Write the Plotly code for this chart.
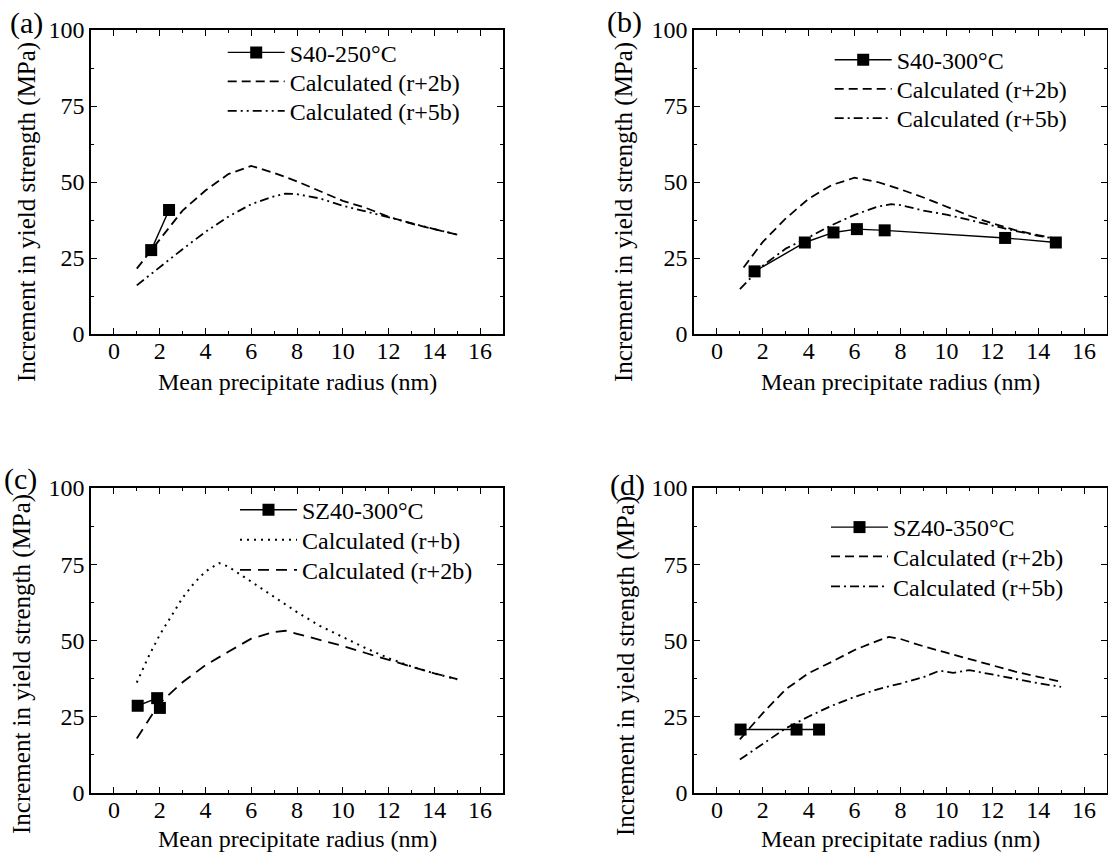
import plotly.graph_objects as go

FONT = "Liberation Serif"
W, H = 1108, 863

# ---------------- data ----------------
# Panel (a)
a_meas_x = [1.63, 2.41]
a_meas_y = [27.6, 40.8]
a_2b_x = [1, 2, 3, 4, 5, 6, 7, 8, 9, 10, 11, 12, 13, 14, 15]
a_2b_y = [21.5, 31.2, 40.6, 47.2, 52.6, 55.3, 53.0, 50.2, 47.0, 43.8, 41.5, 38.6, 36.3, 34.6, 32.7]
a_5b_x = [1, 2, 3, 4, 5, 6, 7, 7.5, 8, 9, 10, 11, 12, 13, 14, 15]
a_5b_y = [16.0, 22.0, 27.9, 33.6, 38.6, 42.7, 45.3, 46.2, 46.0, 44.6, 42.2, 40.3, 38.3, 36.3, 34.5, 32.7]

# Panel (b)
b_meas_x = [1.64, 3.83, 5.08, 6.10, 7.31, 12.56, 14.77]
b_meas_y = [20.6, 30.1, 33.4, 34.5, 34.1, 31.6, 30.1]
b_2b_x = [1.16, 2, 3, 4, 5, 6, 7, 8, 9, 10, 11, 12, 13, 14, 15]
b_2b_y = [21.9, 30.3, 38.0, 44.5, 49.0, 51.4, 50.0, 47.6, 44.9, 42.0, 38.9, 36.4, 34.2, 32.5, 31.0]
b_5b_x = [1, 2, 3, 4, 5, 6, 7, 7.6, 8, 9, 10, 11, 12, 13, 14, 15]
b_5b_y = [14.8, 22.5, 28.1, 31.8, 35.8, 39.2, 41.9, 42.7, 42.4, 40.6, 39.3, 37.5, 35.6, 33.9, 32.3, 31.0]

# Panel (c)
c_meas_x = [1.04, 1.89, 2.01]
c_meas_y = [28.6, 31.1, 27.9]
c_1b_x = [1, 1.5, 2, 2.5, 3, 3.5, 4, 4.6, 5, 6, 7, 8, 9, 10, 11, 12, 13, 14, 15]
c_1b_y = [36.2, 44.5, 51.8, 58.0, 64.0, 68.8, 72.6, 75.4, 74.2, 69.3, 64.2, 59.3, 54.8, 51.1, 47.5, 44.2, 41.5, 39.2, 37.3]
c_2b_x = [1, 2, 3, 4, 5, 6, 7, 7.5, 8, 9, 10, 11, 12, 13, 14, 15]
c_2b_y = [17.9, 29.5, 36.3, 41.9, 46.3, 50.6, 52.8, 53.2, 52.2, 50.2, 48.2, 45.9, 43.6, 41.4, 39.2, 37.3]

# Panel (d)
d_meas_x = [1.03, 3.47, 4.45]
d_meas_y = [20.8, 20.8, 20.8]
d_2b_x = [1, 2, 3, 4, 5, 6, 7, 7.5, 8, 9, 10, 11, 12, 13, 14, 15]
d_2b_y = [17.6, 26.2, 34.0, 39.3, 43.0, 46.9, 49.9, 51.2, 50.5, 48.1, 46.0, 43.9, 41.7, 39.8, 38.1, 36.5]
d_5b_x = [1, 2, 3, 4, 5, 6, 7, 8, 9, 9.7, 10.3, 11, 12, 13, 14, 15]
d_5b_y = [11.0, 16.2, 21.2, 25.1, 28.6, 31.5, 34.0, 35.9, 38.0, 40.1, 39.4, 40.3, 38.8, 37.4, 36.0, 34.8]

x_ticks = [0, 2, 4, 6, 8, 10, 12, 14, 16]
y_ticks = [0, 25, 50, 75, 100]
x_title = "Mean precipitate radius (nm)"
y_title = "Increment in yield strength (MPa)"
panel_labels = ["(a)", "(b)", "(c)", "(d)"]

# ---------------- styles ----------------
DASH = "9px,5px"
DASHDOT = "9px,4px,2px,4px"
DASHDOTDOT = "9px,4px,2px,4px,2px,4px"
DOT = "2px,5px"
LONGDASH = "11px,7px"

fig = go.Figure()


def px_x(v):
    return v / W


def px_y(v):
    return 1 - v / H


domains = {
    1: ([91, 503], [30, 334]),
    2: ([694, 1107], [30, 334]),
    3: ([91, 503], [488, 793]),
    4: ([694, 1107], [488, 793]),
}

panels = [
    (1, [("S40-250°C", a_meas_x, a_meas_y, "meas"),
         ("Calculated (r+2b)", a_2b_x, a_2b_y, DASH),
         ("Calculated (r+5b)", a_5b_x, a_5b_y, DASHDOTDOT)]),
    (2, [("S40-300°C", b_meas_x, b_meas_y, "meas"),
         ("Calculated (r+2b)", b_2b_x, b_2b_y, DASH),
         ("Calculated (r+5b)", b_5b_x, b_5b_y, DASHDOT)]),
    (3, [("SZ40-300°C", c_meas_x, c_meas_y, "meas"),
         ("Calculated (r+b)", c_1b_x, c_1b_y, DOT),
         ("Calculated (r+2b)", c_2b_x, c_2b_y, LONGDASH)]),
    (4, [("SZ40-350°C", d_meas_x, d_meas_y, "meas"),
         ("Calculated (r+2b)", d_2b_x, d_2b_y, DASH),
         ("Calculated (r+5b)", d_5b_x, d_5b_y, DASHDOT)]),
]

# legend: x of sample-line start, row centres (px)
legend_x = {1: 229.7, 2: 836.7, 3: 242, 4: 833}
legend_rows = {
    1: [54.3, 83.3, 112.7],
    2: [61.7, 90.7, 120.0],
    3: [511.7, 541.7, 571.7],
    4: [529.0, 558.3, 588.3],
}

layout = dict(
    template="none",
    width=W, height=H,
    margin=dict(l=0, r=0, t=0, b=0, pad=0),
    paper_bgcolor="white", plot_bgcolor="white",
    font=dict(family=FONT, size=24, color="black"),
    showlegend=True,
)

annotations = []
leg_count = 0
for idx, traces in panels:
    xa = "x" if idx == 1 else f"x{idx}"
    ya = "y" if idx == 1 else f"y{idx}"
    for k, (name, xs, ys, style) in enumerate(traces):
        leg_count += 1
        lg = "legend" if leg_count == 1 else f"legend{leg_count}"
        if style == "meas":
            fig.add_trace(go.Scatter(
                x=xs, y=ys, name=name, mode="lines+markers",
                line=dict(color="black", width=1.4),
                marker=dict(symbol="square", size=12, color="black"),
                xaxis=xa, yaxis=ya, legend=lg))
        else:
            fig.add_trace(go.Scatter(
                x=xs, y=ys, name=name, mode="lines",
                line=dict(color="black", width=2.0 if style == DOT else 1.8, dash=style),
                xaxis=xa, yaxis=ya, legend=lg))
        layout[lg] = dict(
            x=px_x(legend_x[idx] - 7), y=px_y(legend_rows[idx][k] - 24),
            xanchor="left", yanchor="top",
            bgcolor="rgba(0,0,0,0)", borderwidth=0,
            font=dict(family=FONT, size=24, color="black"),
            itemwidth=57,
        )

    (x0, x1), (y0, y1) = domains[idx]
    axis_common = dict(
        showline=True, linecolor="black", linewidth=1.5, mirror="ticks",
        ticks="inside", tickcolor="black", tickwidth=1.3, ticklen=6,
        showgrid=False, zeroline=False, automargin=False,
        tickfont=dict(family=FONT, size=24, color="black"),
    )
    layout["xaxis" if idx == 1 else f"xaxis{idx}"] = dict(
        axis_common, domain=[px_x(x0), px_x(x1)], range=[-1, 17],
        tickvals=x_ticks, anchor=ya, ticklabelstandoff=-6,
        minor=dict(dtick=1, tick0=0, ticks="inside", ticklen=3.5, tickcolor="black", tickwidth=1.2),
    )
    layout["yaxis" if idx == 1 else f"yaxis{idx}"] = dict(
        axis_common, domain=[px_y(y1), px_y(y0)], range=[0, 100],
        tickvals=y_ticks, anchor=xa,
        minor=dict(dtick=12.5, tick0=0, ticks="inside", ticklen=3.5, tickcolor="black", tickwidth=1.2),
    )

# titles and panel labels
xt = [(297, 382), (900, 382), (297, 839), (900, 839)]
yt = [(27, 212), (624, 212), (22, 664), (626, 666)]
pl = [(26.5, 23), (624, 22), (20.3, 479), (627, 485)]
for i in range(4):
    annotations.append(dict(text=x_title, x=px_x(xt[i][0]), y=px_y(xt[i][1]),
                            xref="paper", yref="paper", showarrow=False,
                            xanchor="center", yanchor="middle",
                            font=dict(family=FONT, size=24, color="black")))
    annotations.append(dict(text=y_title, x=px_x(yt[i][0]), y=px_y(yt[i][1]),
                            xref="paper", yref="paper", showarrow=False, textangle=-90,
                            xanchor="center", yanchor="middle",
                            font=dict(family=FONT, size=25, color="black")))
    annotations.append(dict(text=panel_labels[i], x=px_x(pl[i][0]), y=px_y(pl[i][1]),
                            xref="paper", yref="paper", showarrow=False,
                            xanchor="center", yanchor="middle",
                            font=dict(family=FONT, size=30, color="black")))
layout["annotations"] = annotations

fig.update_layout(**layout)
fig.write_html("out.html")
